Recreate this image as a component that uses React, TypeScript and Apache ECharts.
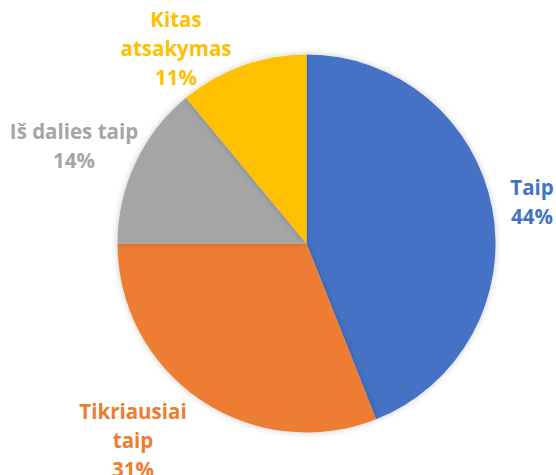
import React, { useEffect, useRef } from "react";
import * as echarts from "echarts";

const categories = ["Taip", "Tikriausiai\ntaip", "Iš dalies taip", "Kitas\natsakymas"];
const values = [44, 31, 14, 11];
const colors = ["#4472C4", "#ED7D31", "#A5A5A5", "#FFC000"];
const labelCenters: [number, number][] = [
  [532, 201],
  [133, 440],
  [74, 145],
  [176, 48],
];

export default function App() {
  const ref = useRef<HTMLDivElement>(null);
  useEffect(() => {
    if (!ref.current) return;
    const chart = echarts.init(ref.current, undefined, { renderer: "svg" });
    chart.setOption({
      animation: false,
      backgroundColor: "#ffffff",
      series: [
        {
          type: "pie",
          center: [306.5, 243.5],
          radius: [0, 189],
          startAngle: 90,
          clockwise: true,
          data: categories.map((name, i) => ({
            name,
            value: values[i],
            itemStyle: { color: colors[i] },
            label: { color: colors[i] },
          })),
          itemStyle: {
            borderWidth: 0,
            shadowBlur: 6,
            shadowColor: "rgba(0,0,0,0.22)",
          },
          label: {
            show: true,
            position: "outside",
            formatter: (p: any) => `${p.name}\n${p.value}%`,
            fontFamily: "'Open Sans', Lato, sans-serif",
            fontWeight: "bold",
            fontSize: 20.5,
            lineHeight: 29,
            align: "center",
            overflow: "none",
            width: 300,
          },
          labelLine: { show: false },
          labelLayout: (params: any) => {
            const c = labelCenters[params.dataIndex];
            return { x: c[0], y: c[1], align: "center", verticalAlign: "middle", hideOverlap: false };
          },
          emphasis: { disabled: true },
        },
      ],
    });
    return () => chart.dispose();
  }, []);
  return (
    <div
      ref={ref}
      style={{ position: "fixed", left: 0, top: 0, width: 556, height: 475 }}
    />
  );
}
